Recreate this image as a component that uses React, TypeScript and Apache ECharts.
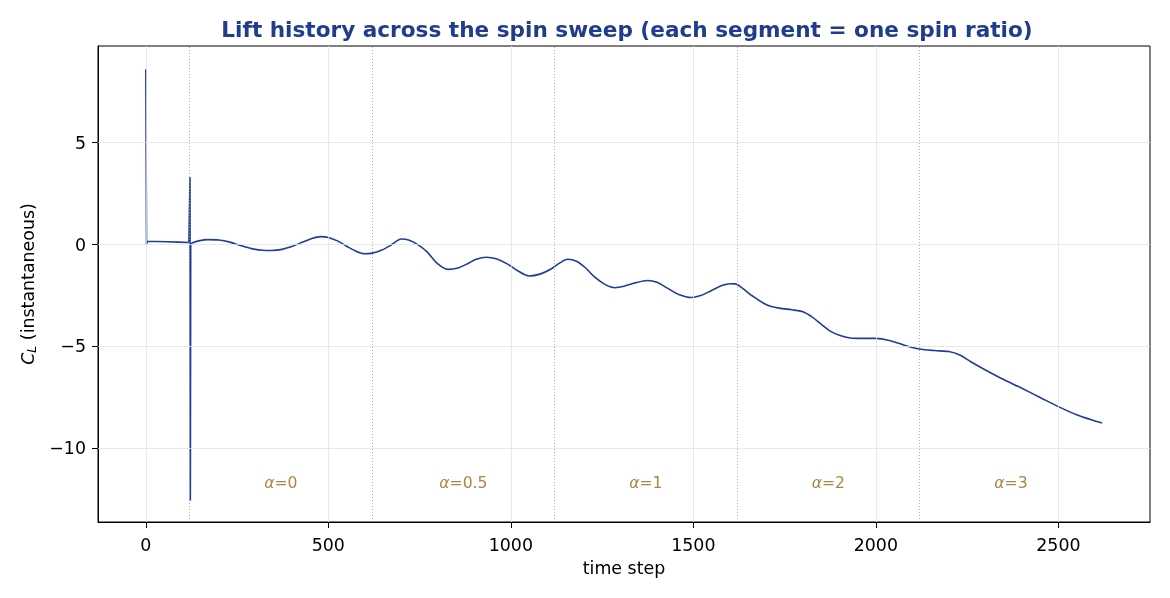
import React, { useEffect, useRef } from 'react';
import * as echarts from 'echarts';

// time step / C_L
const transient: [number, number][] = [
  [0, 8.6], [2, 0.0], [4, 0.15], [30, 0.15], [60, 0.14], [90, 0.12], [118, 0.1],
  [121, 3.3], [122, -12.55], [123, 0.0], [126, 0.08],
];

const history: [number, number][] = [
  [126, 0.08], [145, 0.18], [170, 0.24], [200, 0.22], [230, 0.12], [260, -0.05],
  [290, -0.2], [320, -0.28], [345, -0.29], [370, -0.25], [400, -0.1], [430, 0.12],
  [455, 0.3], [480, 0.39], [500, 0.35], [525, 0.18], [550, -0.08], [575, -0.32],
  [600, -0.45], [620, -0.42], [645, -0.28], [670, -0.05], [700, 0.27], [720, 0.22],
  [745, 0.0], [770, -0.35], [800, -0.95], [828, -1.22], [855, -1.15], [880, -0.95],
  [905, -0.72], [933, -0.62], [960, -0.7], [990, -0.95], [1020, -1.3], [1050, -1.54],
  [1080, -1.45], [1110, -1.2], [1130, -0.95], [1156, -0.72], [1180, -0.82], [1205, -1.15],
  [1230, -1.6], [1260, -1.98], [1285, -2.12], [1310, -2.05], [1340, -1.88], [1375, -1.76],
  [1400, -1.85], [1430, -2.15], [1460, -2.45], [1494, -2.6], [1520, -2.5], [1550, -2.25],
  [1580, -2.0], [1600, -1.92], [1615, -1.93], [1635, -2.15], [1660, -2.5], [1700, -2.95],
  [1735, -3.12], [1770, -3.2], [1800, -3.3], [1825, -3.55], [1850, -3.9], [1875, -4.25],
  [1900, -4.45], [1930, -4.58], [1960, -4.6], [2000, -4.6], [2040, -4.72], [2080, -4.95],
  [2119, -5.12], [2160, -5.2], [2200, -5.25], [2230, -5.42], [2260, -5.75], [2300, -6.15],
  [2350, -6.62], [2400, -7.05], [2450, -7.5], [2500, -7.95], [2550, -8.35], [2600, -8.65],
  [2620, -8.75],
];

const segmentStarts = [120, 620, 1120, 1620, 2120];
const spinRatios = ['0', '0.5', '1', '2', '3'];
const segmentLength = 500;
const labelY = -11.7;

const xTicks = [0, 500, 1000, 1500, 2000, 2500];
const yTicks = [-10, -5, 0, 5];

const FONT = 'DejaVu Sans';
const LINE = '#1f3c96';
const FS = 17.4;

export default function App() {
  const ref = useRef<HTMLDivElement>(null);

  useEffect(() => {
    if (!ref.current) return;
    const chart = echarts.init(ref.current, undefined, { renderer: 'svg' });

    const minus = (v: number) => String(v).replace('-', '\u2212');

    const option = {
      animation: false,
      textStyle: { fontFamily: FONT },
      title: {
        text: 'Lift history across the spin sweep (each segment = one spin ratio)',
        left: 622,
        top: 13,
        textAlign: 'center',
        textStyle: { fontFamily: FONT, fontSize: 21.6, fontWeight: 'bold', color: '#1f3c8f' },
      },
      grid: {
        left: 98, right: 20, top: 46, bottom: 76,
        show: true, borderColor: '#000', borderWidth: 1, backgroundColor: 'transparent',
      },
      xAxis: {
        type: 'value',
        min: -131,
        max: 2751,
        name: 'time step',
        nameLocation: 'middle',
        nameGap: 37,
        nameTextStyle: { fontFamily: FONT, fontSize: FS, color: '#000' },
        axisLine: { onZero: false, lineStyle: { color: '#000', width: 1 } },
        axisTick: { show: true, length: 6, customValues: xTicks, lineStyle: { color: '#000' } },
        axisLabel: {
          customValues: xTicks, fontFamily: FONT, fontSize: FS, color: '#000', margin: 14,
          formatter: (v: number) => String(v),
        },
        splitLine: { show: false },
      },
      yAxis: {
        type: 'value',
        min: -13.61,
        max: 9.74,
        name: '{i|C}{s|L} (instantaneous)',
        nameLocation: 'middle',
        nameGap: 55,
        nameRotate: 90,
        nameTextStyle: {
          fontFamily: FONT, fontSize: FS, color: '#000',
          rich: {
            i: { fontFamily: FONT, fontSize: FS, fontStyle: 'italic', color: '#000' },
            s: { fontFamily: FONT, fontSize: 12.5, fontStyle: 'italic', color: '#000', padding: [8, 0, 0, 0] },
          },
        },
        axisLine: { onZero: false, lineStyle: { color: '#000', width: 1 } },
        axisTick: { show: true, length: 6, customValues: yTicks, lineStyle: { color: '#000' } },
        axisLabel: {
          customValues: yTicks, fontFamily: FONT, fontSize: FS, color: '#000', margin: 12,
          formatter: (v: number) => minus(v),
        },
        splitLine: { show: false },
      },
      series: [
        {
          // grid lines and segment dividers
          type: 'line',
          data: [],
          z: 1,
          silent: true,
          markLine: {
            silent: true,
            symbol: 'none',
            label: { show: false },
            data: [
              ...xTicks.map((x) => ({ xAxis: x, lineStyle: { color: '#e3e3e3', width: 0.8, type: 'solid' } })),
              ...yTicks.map((y) => ({ yAxis: y, lineStyle: { color: '#e3e3e3', width: 0.8, type: 'solid' } })),
              ...segmentStarts.map((x) => ({ xAxis: x, lineStyle: { color: '#999', width: 0.8, type: [1, 2] } })),
            ],
          },
        },
        {
          type: 'line',
          data: transient,
          z: 3,
          showSymbol: false,
          symbol: 'none',
          lineStyle: { color: LINE, width: 1.6 },
        },
        {
          type: 'line',
          data: history,
          z: 3,
          smooth: 0.3,
          showSymbol: false,
          symbol: 'none',
          lineStyle: { color: LINE, width: 1.6 },
        },
        {
          type: 'scatter',
          z: 4,
          symbolSize: 0,
          data: segmentStarts.map((x, i) => ({ value: [x + segmentLength / 2, labelY], name: spinRatios[i] })),
          label: {
            show: true,
            position: 'inside',
            formatter: (p: any) => '{a|\u03b1}=' + p.name,
            fontFamily: FONT,
            fontSize: 15.6,
            color: '#946818',
            rich: { a: { fontFamily: FONT, fontSize: 15.6, fontStyle: 'italic', color: '#946818' } },
          },
        },
      ],
    };

    chart.setOption(option as any);
    return () => chart.dispose();
  }, []);

  return <div ref={ref} style={{ position: 'fixed', left: 0, top: 0, width: 1170, height: 598 }} />;
}
